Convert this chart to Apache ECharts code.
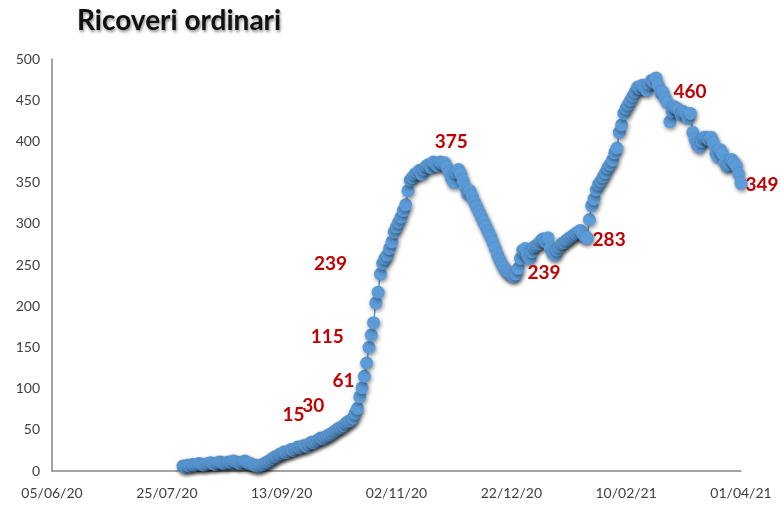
<!DOCTYPE html>
<html>
<head>
<meta charset="utf-8">
<script src="https://cdn.jsdelivr.net/npm/echarts@6/dist/echarts.min.js"></script>
<style>
  html, body { margin: 0; padding: 0; background: #fff; }
  #main { width: 781px; height: 512px; }
</style>
</head>
<body>
<div id="main"></div>
<script>
// x = days since 05/06/20
const xTickLabels = ['05/06/20', '25/07/20', '13/09/20', '02/11/20', '22/12/20', '10/02/21', '01/04/21'];
const firstDay = 57; // 01/08/20
const ricoveri = [
  6, 5, 7, 6, 8, 7, 8, 9, 8, 7,
  8, 9, 10, 9, 8, 10, 11, 10, 9, 10,
  11, 10, 12, 11, 10, 9, 11, 12, 10, 9,
  8, 7, 6, 6, 7, 8, 10, 11, 13, 15,
  17, 18, 20, 21, 23, 22, 24, 26, 25, 27,
  29, 28, 30, 31, 30, 33, 35, 34, 36, 38,
  40, 39, 41, 43, 44, 46, 48, 50, 52, 53,
  55, 58, 60, 61, 64, 70, 76, 90, 101, 115,
  131, 150, 165, 180, 204, 217, 239, 252, 258, 262,
  270, 278, 290, 296, 302, 308, 316, 323, 340, 353,
  356, 360, 362, 365, 360, 366, 370, 372, 368, 375,
  372, 370, 375, 373, 374, 368, 362, 355, 350, 362,
  366, 360, 352, 344, 336, 340, 333, 326, 320, 314,
  308, 302, 296, 290, 284, 277, 270, 262, 256, 250,
  246, 242, 240, 238, 236, 239, 246, 258, 268, 270,
  262, 258, 266, 272, 274, 276, 280, 282, 278, 283,
  270, 265, 262, 268, 272, 276, 277, 280, 282, 284,
  286, 288, 290, 292, 288, 284, 283, 305, 322, 330,
  341, 348, 352, 357, 362, 368, 372, 377, 386, 392,
  411, 420, 434, 440, 445, 450, 455, 460, 466, 464,
  468, 465, 462, 470, 474, 472, 477, 468, 459, 460,
  452, 447, 424, 436, 442, 440, 438, 432, 436, 434,
  428, 434, 411, 402, 396, 393, 400, 405, 405, 402,
  405, 398, 386, 381, 390, 385, 374, 369, 372, 378,
  374, 370, 360, 349
];
// days with a red value label
const labelDays = [96, 109, 130, 136, 143, 166, 202, 233, 266, 300];

// where each red label sits relative to its point (px)
const labelOffsets = [[21, -44], [11, -40], [-7, -40], [-37, -39], [-50, -10],
  [18, -20], [28, -1], [22, 2], [27, 0], [21, 1]];

let myChart = echarts.init(document.getElementById('main'));
let seriesData = ricoveri.map((v, i) => [firstDay + i, v]);
let marks = labelDays.map((d, k) => {
  let v = ricoveri[d - firstDay];
  return {
    coord: [d, v],
    value: v,
    label: { offset: labelOffsets[k] }
  };
});

var option = {
  animation: false,
  title: {
    text: 'Ricoveri ordinari',
    left: 72,
    top: 2,
    textStyle: {
      fontFamily: 'Lato',
      fontWeight: 'bold',
      fontSize: 28,
      color: '#111',
      textShadowColor: 'rgba(0,0,0,0.45)',
      textShadowBlur: 3,
      textShadowOffsetX: 1,
      textShadowOffsetY: 2
    }
  },
  grid: {
    left: 52,
    right: 40,
    top: 59,
    bottom: 41
  },
  xAxis: {
    type: 'value',
    min: 0,
    max: 300,
    interval: 50,
    splitLine: { show: false },
    axisTick: { show: false },
    axisLine: { lineStyle: { color: '#868686', width: 1.5 } },
    axisLabel: {
      margin: 15,
      fontFamily: 'Lato',
      fontSize: 14,
      color: '#404040',
      formatter: v => xTickLabels[Math.round(v / 50)]
    }
  },
  yAxis: {
    type: 'value',
    min: 0,
    max: 500,
    interval: 50,
    splitLine: { show: false },
    axisTick: { show: false },
    axisLine: { show: true, lineStyle: { color: '#868686', width: 1.5 } },
    axisLabel: {
      margin: 12,
      fontFamily: 'Lato',
      fontSize: 14,
      color: '#404040'
    }
  },
  series: [
    {
      name: 'Ricoveri ordinari',
      type: 'line',
      data: seriesData,
      symbol: 'circle',
      symbolSize: 13,
      showAllSymbol: true,
      lineStyle: { color: '#5B9BD5', width: 1.5 },
      itemStyle: {
        color: '#5B9BD8',
        shadowColor: 'rgba(0,0,0,0.45)',
        shadowBlur: 4,
        shadowOffsetX: 1,
        shadowOffsetY: 2
      },
      markPoint: {
        symbol: 'circle',
        symbolSize: 0,
        label: {
          show: true,
          position: 'inside',
          formatter: '{c}',
          fontFamily: 'Lato',
          fontWeight: 'bold',
          fontSize: 19,
          color: '#C00000'
        },
        data: marks
      }
    }
  ]
};
myChart.setOption(option);
</script>
</body>
</html>
